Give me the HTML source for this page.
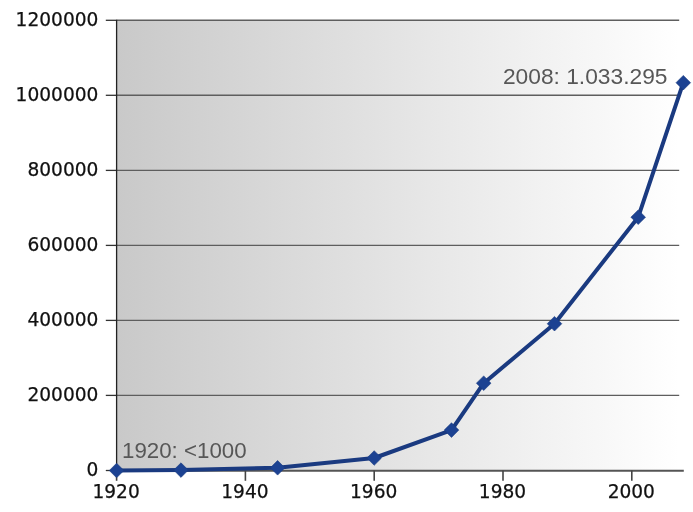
<!DOCTYPE html>
<html><head><meta charset="utf-8"><title>Chart</title>
<style>
html,body{margin:0;padding:0;background:#fff;}
body{width:693px;height:512px;overflow:hidden;}
svg{display:block;}
.ax{font-family:"DejaVu Sans","Liberation Sans",sans-serif;font-size:18.6px;fill:#111;stroke:#111;stroke-width:0.25px;}
.an{font-family:"Liberation Sans",Arial,sans-serif;font-size:22px;fill:#575757;}
</style></head><body>
<svg width="693" height="512" viewBox="0 0 693 512">
<defs><linearGradient id="g" x1="0" y1="0" x2="1" y2="0"><stop offset="0" stop-color="#c9c9c9"/><stop offset="1" stop-color="#ffffff"/></linearGradient></defs>
<rect x="0" y="0" width="693" height="512" fill="#fff"/>
<rect x="116.6" y="20.3" width="562.6" height="450.2" fill="url(#g)"/>
<line x1="116.6" y1="20.3" x2="679.2" y2="20.3" stroke="#5e5e5e" stroke-width="1.4"/>
<line x1="116.6" y1="95.3" x2="679.2" y2="95.3" stroke="#5e5e5e" stroke-width="1.4"/>
<line x1="116.6" y1="170.4" x2="679.2" y2="170.4" stroke="#5e5e5e" stroke-width="1.4"/>
<line x1="116.6" y1="245.4" x2="679.2" y2="245.4" stroke="#5e5e5e" stroke-width="1.4"/>
<line x1="116.6" y1="320.4" x2="679.2" y2="320.4" stroke="#5e5e5e" stroke-width="1.4"/>
<line x1="116.6" y1="395.4" x2="679.2" y2="395.4" stroke="#5e5e5e" stroke-width="1.4"/>
<line x1="105.8" y1="20.3" x2="116.6" y2="20.3" stroke="#333" stroke-width="1.3"/>
<line x1="105.8" y1="95.3" x2="116.6" y2="95.3" stroke="#333" stroke-width="1.3"/>
<line x1="105.8" y1="170.4" x2="116.6" y2="170.4" stroke="#333" stroke-width="1.3"/>
<line x1="105.8" y1="245.4" x2="116.6" y2="245.4" stroke="#333" stroke-width="1.3"/>
<line x1="105.8" y1="320.4" x2="116.6" y2="320.4" stroke="#333" stroke-width="1.3"/>
<line x1="105.8" y1="395.4" x2="116.6" y2="395.4" stroke="#333" stroke-width="1.3"/>
<line x1="105.8" y1="470.5" x2="116.6" y2="470.5" stroke="#333" stroke-width="1.3"/>
<line x1="116.6" y1="19.7" x2="116.6" y2="471.5" stroke="#222" stroke-width="1.3"/>
<line x1="116" y1="470.8" x2="683.8" y2="470.8" stroke="#555" stroke-width="2.1"/>
<line x1="116.6" y1="470.6" x2="116.6" y2="480.8" stroke="#444" stroke-width="1.6"/>
<text class="ax" x="116.1" y="498.1" text-anchor="middle">1920</text>
<line x1="245.4" y1="470.6" x2="245.4" y2="480.8" stroke="#444" stroke-width="1.6"/>
<text class="ax" x="244.9" y="498.1" text-anchor="middle">1940</text>
<line x1="374.2" y1="470.6" x2="374.2" y2="480.8" stroke="#444" stroke-width="1.6"/>
<text class="ax" x="373.7" y="498.1" text-anchor="middle">1960</text>
<line x1="503.0" y1="470.6" x2="503.0" y2="480.8" stroke="#444" stroke-width="1.6"/>
<text class="ax" x="502.5" y="498.1" text-anchor="middle">1980</text>
<line x1="631.8" y1="470.6" x2="631.8" y2="480.8" stroke="#444" stroke-width="1.6"/>
<text class="ax" x="631.3" y="498.1" text-anchor="middle">2000</text>
<text class="ax" x="98.4" y="25.9" text-anchor="end">1200000</text>
<text class="ax" x="98.4" y="100.9" text-anchor="end">1000000</text>
<text class="ax" x="98.4" y="176.0" text-anchor="end">800000</text>
<text class="ax" x="98.4" y="251.0" text-anchor="end">600000</text>
<text class="ax" x="98.4" y="326.0" text-anchor="end">400000</text>
<text class="ax" x="98.4" y="401.1" text-anchor="end">200000</text>
<text class="ax" x="98.4" y="476.1" text-anchor="end">0</text>
<text class="an" x="122.0" y="458.1" textLength="124.6" lengthAdjust="spacingAndGlyphs">1920: &lt;1000</text>
<text class="an" x="502.9" y="84.4" textLength="164.6" lengthAdjust="spacingAndGlyphs">2008: 1.033.295</text>
<polyline points="116.6,470.5 181.0,470.1 277.6,467.8 374.2,458.0 451.5,430.1 483.7,383.2 554.5,323.7 638.2,217.2 683.3,82.7" fill="none" stroke="#1a3a80" stroke-width="4" stroke-linejoin="round" stroke-linecap="butt"/>
<path d="M109.3,470.5 L116.6,463.2 L123.9,470.5 L116.6,477.8 Z" fill="#1c4292" stroke="#1a3a80" stroke-width="0.6" stroke-linejoin="miter"/>
<path d="M173.7,470.1 L181.0,462.8 L188.3,470.1 L181.0,477.4 Z" fill="#1c4292" stroke="#1a3a80" stroke-width="0.6" stroke-linejoin="miter"/>
<path d="M270.3,467.8 L277.6,460.5 L284.9,467.8 L277.6,475.1 Z" fill="#1c4292" stroke="#1a3a80" stroke-width="0.6" stroke-linejoin="miter"/>
<path d="M366.9,458.0 L374.2,450.7 L381.5,458.0 L374.2,465.3 Z" fill="#1c4292" stroke="#1a3a80" stroke-width="0.6" stroke-linejoin="miter"/>
<path d="M444.2,430.1 L451.5,422.8 L458.8,430.1 L451.5,437.4 Z" fill="#1c4292" stroke="#1a3a80" stroke-width="0.6" stroke-linejoin="miter"/>
<path d="M476.4,383.2 L483.7,375.9 L491.0,383.2 L483.7,390.5 Z" fill="#1c4292" stroke="#1a3a80" stroke-width="0.6" stroke-linejoin="miter"/>
<path d="M547.2,323.7 L554.5,316.4 L561.8,323.7 L554.5,331.0 Z" fill="#1c4292" stroke="#1a3a80" stroke-width="0.6" stroke-linejoin="miter"/>
<path d="M630.9,217.2 L638.2,209.9 L645.5,217.2 L638.2,224.5 Z" fill="#1c4292" stroke="#1a3a80" stroke-width="0.6" stroke-linejoin="miter"/>
<path d="M676.0,82.7 L683.3,75.4 L690.6,82.7 L683.3,90.0 Z" fill="#1c4292" stroke="#1a3a80" stroke-width="0.6" stroke-linejoin="miter"/>
</svg></body></html>
